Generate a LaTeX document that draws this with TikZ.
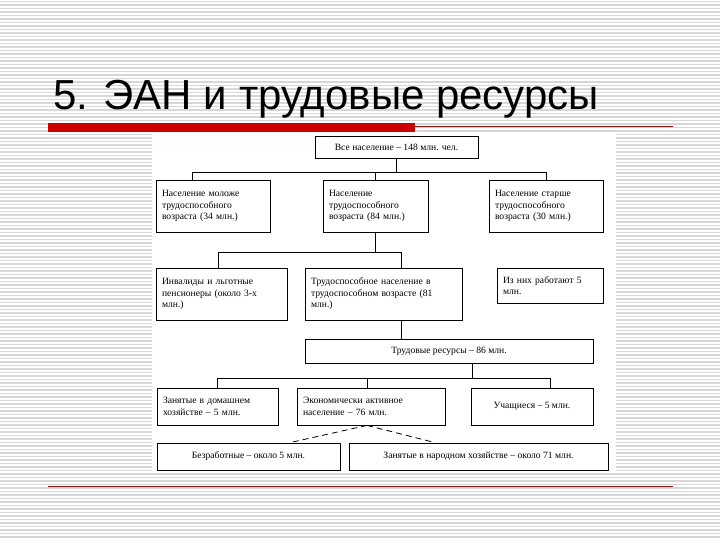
\documentclass[tikz,border=0pt]{standalone}
\usepackage{fontspec}
\setmainfont{Liberation Serif}
\newfontfamily\titlefont{Liberation Sans}
\usetikzlibrary{calc, positioning}
\definecolor{barred}{RGB}{204,0,0}
\definecolor{rulered}{RGB}{150,20,20}
\definecolor{stripegray}{RGB}{215,215,215}
\tikzset{
  chartbox/.style={draw, line width=0.8pt, inner xsep=6pt, inner ysep=3pt,
    font=\fontsize{9.6}{11.5}\selectfont},
  leftbox/.style={chartbox, align=left},
  midbox/.style={chartbox, align=center},
  link/.style={line width=0.8pt}
}
\begin{document}
\begin{tikzpicture}[x=1pt, y=-1pt]
    \useasboundingbox (0,0) rectangle (720,540);
    % Striped background
    \fill[white] (0,0) rectangle (720,540);
    \foreach \y in {1.5,5,...,540}
        \draw[stripegray, line width=1.2pt] (0,\y) -- (720,\y);
    \fill[white] (152,134) rectangle (616,472);

    % Title and rules
    \node[anchor=base west, inner sep=0pt, font=\titlefont\fontsize{42}{42}\selectfont] (title) at (53,110) {5. ЭАН и трудовые ресурсы};
    \fill[barred] (48,123) rectangle (415,132);
    \draw[rulered, line width=0.7pt] (415,126) -- (673,126);
    \draw[rulered, line width=0.7pt] (48,486) -- (673,486);

    % Boxes
    \node[midbox, minimum width=163pt, minimum height=22pt] (all) at (396.5,147) {Все население – 148 млн. чел.};
    \node[leftbox, text width=102pt, minimum height=52pt] (young) at (213,206) {Население моложе\\ трудоспособного\\ возраста (34 млн.)};
    \node[leftbox, text width=93pt, minimum height=52pt] (work) at (375.5,206) {Население\\ трудоспособного\\ возраста (84 млн.)};
    \node[leftbox, text width=102pt, minimum height=52pt] (old) at (546,206) {Население старше\\ трудоспособного\\ возраста (30 млн.)};
    \node[leftbox, text width=119pt, minimum height=52pt] (invalid) at (221.5,294) {Инвалиды и льготные\\ пенсионеры (около 3-х\\ млн.)};
    \node[leftbox, text width=145pt, minimum height=52pt] (able) at (383.5,294) {Трудоспособное население в\\ трудоспособном возрасте (81\\ млн.)};
    \node[leftbox, text width=94pt, minimum height=35pt] (extra) at (550,285.5) {Из них работают 5\\ млн.};
    \node[midbox, minimum width=288pt, minimum height=24pt] (res) at (449,351) {Трудовые ресурсы – 86 млн.};
    \node[leftbox, text width=109pt, minimum height=37pt] (home) at (217.5,406.5) {Занятые в домашнем\\ хозяйстве – 5 млн.};
    \node[leftbox, text width=136pt, minimum height=37pt] (econ) at (371,406.5) {Экономически активное\\ население – 76 млн.};
    \node[midbox, minimum width=122pt, minimum height=37pt] (study) at (532,406.5) {Учащиеся – 5 млн.};
    \node[midbox, minimum width=183pt, minimum height=27pt] (jobless) at (248.5,456.5) {Безработные – около 5 млн.};
    \node[midbox, minimum width=259pt, minimum height=27pt] (employed) at (478.5,456.5) {Занятые в народном хозяйстве – около 71 млн.};

    % Connectors
    \draw[link] (all.south) -- ++(0,14) coordinate (busA);
    \draw[link] ([xshift=-21pt]young.north) |- (busA) -| (old.north);
    \draw[link] (busA) -| (work.north);
    \draw[link] (work.south) -- ++(0,20) coordinate (busB);
    \draw[link] ([xshift=-3.5pt]invalid.north) |- (busB) -| ([xshift=17.5pt]able.north);
    \draw[link] ([xshift=17.5pt]able.south) -- ([xshift=17.5pt]able.south |- res.north);
    \draw[link] ([xshift=23pt]res.south) -- ++(0,15) coordinate (busC);
    \draw[link] (home.north) |- (busC) -| ([xshift=18pt]study.north);
    \draw[link] (busC) -| ([xshift=-4pt]econ.north);

    % Dashed split
    \draw[link, dash pattern=on 6pt off 4pt] ([xshift=-4pt]econ.south) -- ([xshift=41.5pt]jobless.north);
    \draw[link, dash pattern=on 6pt off 4pt] ([xshift=-4pt]econ.south) -- ([xshift=-43.5pt]employed.north);
\end{tikzpicture}
\end{document}
